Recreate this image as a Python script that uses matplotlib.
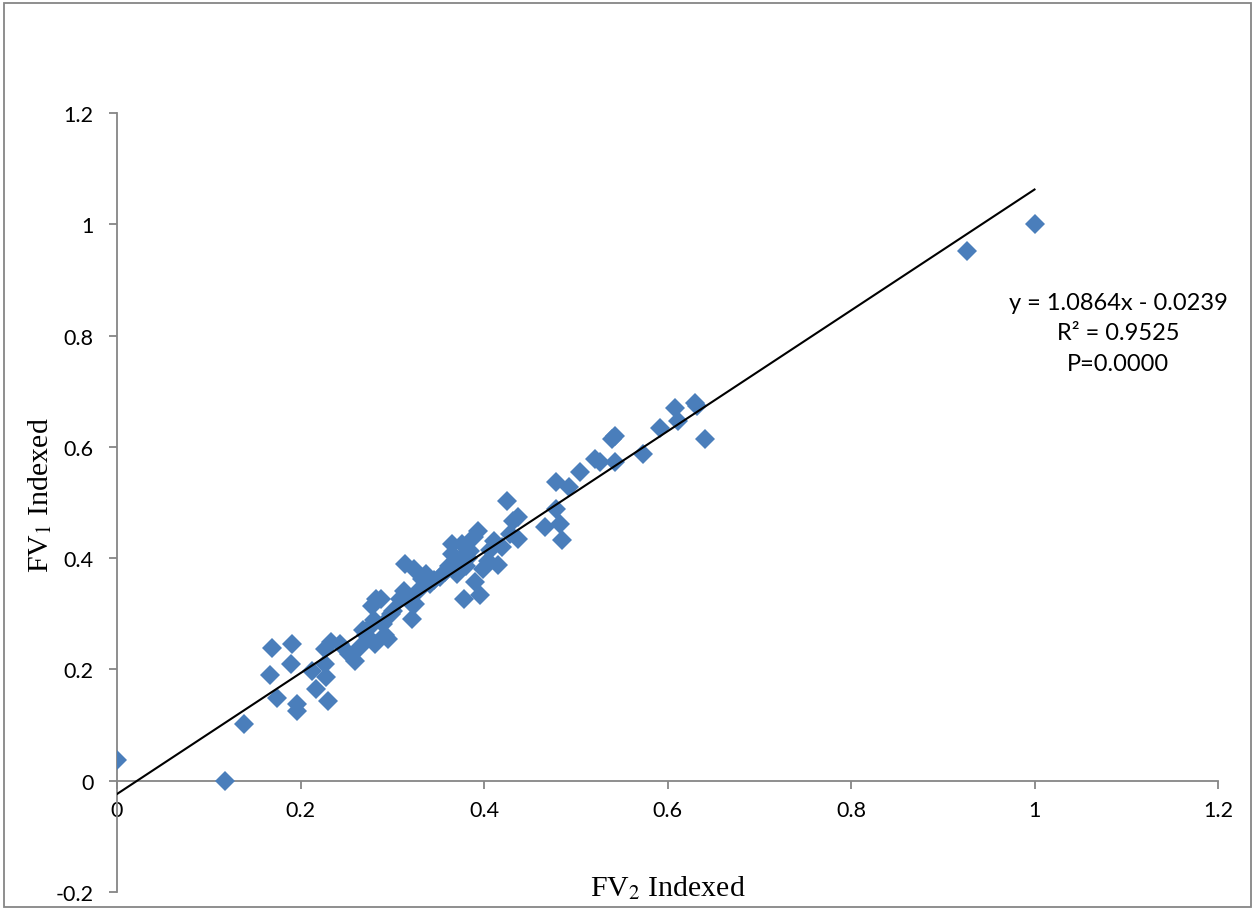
import matplotlib

matplotlib.use("Agg")
import matplotlib.pyplot as plt
from matplotlib.patches import Rectangle
import numpy as np


# values
fv2_indexed = [
    0.000, 0.118, 0.138, 0.167, 0.169, 0.174, 0.191, 0.190, 0.196, 0.196,
    0.213, 0.217, 0.227, 0.227, 0.228, 0.230, 0.233, 0.243, 0.253, 0.259,
    0.265, 0.271, 0.276, 0.280, 0.281, 0.278, 0.282, 0.288, 0.290, 0.292,
    0.295, 0.299, 0.308, 0.313, 0.314, 0.319, 0.322, 0.325, 0.324, 0.328,
    0.332, 0.337, 0.341, 0.352, 0.362, 0.365, 0.365, 0.371, 0.374, 0.376,
    0.380, 0.378, 0.385, 0.389, 0.390, 0.393, 0.396, 0.399, 0.404, 0.411,
    0.415, 0.420, 0.425, 0.428, 0.432, 0.437, 0.437, 0.466, 0.478, 0.478,
    0.483, 0.485, 0.493, 0.505, 0.521, 0.526, 0.539, 0.543, 0.543, 0.573,
    0.592, 0.608, 0.611, 0.630, 0.632, 0.641, 0.926, 1.000,
    0.268, 0.301, 0.346, 0.357, 0.383, 0.407,
]
fv1_indexed = [
    0.037, 0.000, 0.102, 0.190, 0.238, 0.148, 0.245, 0.210, 0.137, 0.126,
    0.198, 0.165, 0.237, 0.210, 0.187, 0.144, 0.250, 0.246, 0.228, 0.216,
    0.241, 0.262, 0.277, 0.289, 0.246, 0.314, 0.327, 0.327, 0.282, 0.262,
    0.255, 0.300, 0.327, 0.341, 0.390, 0.322, 0.291, 0.318, 0.381, 0.341,
    0.363, 0.372, 0.354, 0.367, 0.385, 0.408, 0.426, 0.372, 0.399, 0.426,
    0.385, 0.327, 0.412, 0.438, 0.358, 0.449, 0.333, 0.381, 0.394, 0.431,
    0.388, 0.420, 0.503, 0.444, 0.467, 0.474, 0.435, 0.456, 0.536, 0.489,
    0.462, 0.433, 0.528, 0.555, 0.579, 0.573, 0.615, 0.620, 0.573, 0.588,
    0.633, 0.669, 0.646, 0.678, 0.674, 0.615, 0.952, 1.000,
    0.270, 0.305, 0.360, 0.375, 0.400, 0.415,
]

slope = 1.0864
intercept = -0.0239
trend_x = [0.0, 1.0]

x_ticks = [0, 0.2, 0.4, 0.6, 0.8, 1, 1.2]
y_ticks = [-0.2, 0, 0.2, 0.4, 0.6, 0.8, 1, 1.2]

plt.rcParams["font.family"] = ["Lato", "DejaVu Sans"]
plt.rcParams["mathtext.fontset"] = "stix"

fig = plt.figure(figsize=(12.55, 9.12), dpi=100)
ax = fig.add_axes([117 / 1255, 1 - 893 / 912, 1101 / 1255, 779 / 912])

ax.plot(fv2_indexed, fv1_indexed, linestyle="none", marker="D", markersize=10,
        color="#4a7ebb", markeredgewidth=0, zorder=3)
trend_y = [slope * v + intercept for v in trend_x]
ax.plot(trend_x, trend_y, color="black", lw=1.5, zorder=4)

ax.set_xlim(0, 1.2)
ax.set_ylim(-0.2, 1.2)
ax.set_xticks(x_ticks)
ax.set_yticks(y_ticks)
ax.set_xticklabels([f"{v:g}" for v in x_ticks])
ax.set_yticklabels([f"{v:g}" for v in y_ticks])

axis_grey = "#868686"
for side in ("top", "right"):
    ax.spines[side].set_visible(False)
ax.spines["left"].set_position(("data", 0))
ax.spines["bottom"].set_position(("data", 0))
ax.spines["left"].set_color(axis_grey)
ax.spines["bottom"].set_color(axis_grey)
ax.spines["left"].set_linewidth(1.3)
ax.spines["bottom"].set_linewidth(1.3)
ax.tick_params(axis="x", direction="out", length=6, width=1.3, color=axis_grey,
               labelsize=15.5, pad=8)
ax.tick_params(axis="y", direction="out", length=6, width=1.3, color=axis_grey,
               labelsize=15.5, pad=11)
ax.patch.set_alpha(0)

fig.text(668 / 1255, 1 - 888 / 912, r"FV$_2$ Indexed", ha="center", va="center",
         fontsize=21.5, family="Liberation Serif")
fig.text(40 / 1255, 1 - 495 / 912, r"FV$_1$ Indexed", ha="center", va="center",
         rotation=90, fontsize=21.5, family="Liberation Serif")

fig.text(1118 / 1255, 1 - 334 / 912,
         f"y = {slope:.4f}x - {abs(intercept):.4f}\nR² = 0.9525\nP=0.0000",
         ha="center", va="center", multialignment="center", fontsize=17,
         linespacing=1.55)

fig.patches.append(Rectangle((4 / 1255, 4 / 912), 1 - 8 / 1255, 1 - 8 / 912,
                             transform=fig.transFigure, fill=False,
                             edgecolor=axis_grey, lw=1.3))

fig.savefig("out.png", dpi=100)
